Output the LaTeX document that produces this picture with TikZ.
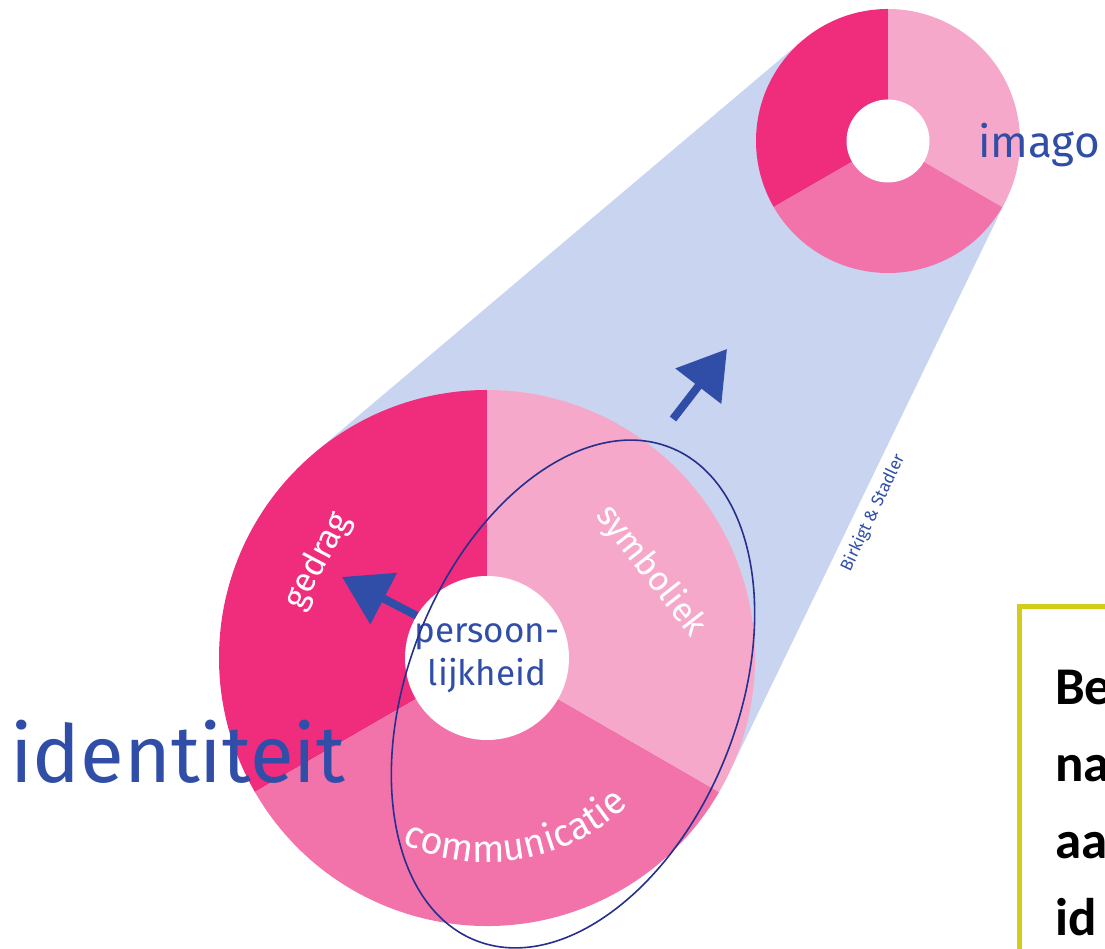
\documentclass[tikz,border=0pt]{standalone}
\usepackage{fontspec}
\setmainfont{Fira Sans}
\newfontfamily\notefont{Carlito}
\usetikzlibrary{arrows.meta, calc, decorations.text}

\definecolor{pinkdark}{RGB}{240,45,125}
\definecolor{pinkmid}{RGB}{241,115,170}
\definecolor{pinklight}{RGB}{246,168,202}
\definecolor{conefill}{RGB}{201,212,240}
\definecolor{textblue}{RGB}{48,78,168}
\definecolor{ringblue}{RGB}{38,48,140}
\definecolor{noteyellow}{RGB}{210,204,26}

\begin{document}
\begin{tikzpicture}[
    x=1pt, y=1pt,
    hole/.style={circle, fill=white, inner sep=0pt, align=center, text=textblue},
    sector_label/.style={text=white, inner sep=0pt, font=\fontsize{34}{40}\selectfont},
    title_label/.style={text=textblue, anchor=base west, inner sep=0pt},
    push_arrow/.style={-{Triangle[length=47pt, width=56pt]}, line width=8pt, textblue},
    ring/.style={draw=ringblue, line width=1.6pt},
    notebox/.style={draw=noteyellow, line width=5pt},
    note_text/.style={anchor=base west, inner sep=0pt, font=\notefont\bfseries\fontsize{53}{60}\selectfont}
  ]
  \useasboundingbox (0,0) rectangle (1105,949);
  \clip (0,0) rectangle (1105,949);

  \coordinate (big) at (487,291);
  \coordinate (small) at (888,808);

  % light cone between the two discs
  \fill[conefill] ($(big)+(130.2:268)$) -- ($(small)+(130.2:132)$)
    -- ($(small)+(-25.8:132)$) -- ($(big)+(-25.8:268)$) -- cycle;

  % three sectors per disc
  \foreach \c/\r in {big/268pt, small/132pt} {
    \fill[pinkdark] (\c) -- ++(90:\r) arc[start angle=90, end angle=210, radius=\r] -- cycle;
    \fill[pinkmid] (\c) -- ++(210:\r) arc[start angle=210, end angle=330, radius=\r] -- cycle;
    \fill[pinklight] (\c) -- ++(330:\r) arc[start angle=330, end angle=450, radius=\r] -- cycle;
  }

  \node[hole, minimum size=164pt, font=\fontsize{35}{43}\selectfont] (kern) at (big) {persoon-\\lijkheid};
  \node[hole, minimum size=83pt] (imagokern) at (small) {};

  \coordinate (ringc) at (573,255);
  \draw[ring, rotate around={-21.5:(ringc)}] (ringc) ellipse [x radius=165pt, y radius=265pt];

  \coordinate (gedragtip) at (342,372);
  \coordinate (outstart) at (673,530);
  \coordinate (outtip) at (727,600);
  \draw[push_arrow] (kern.149) -- (gedragtip);
  \draw[push_arrow] (outstart) -- (outtip);

  \node[sector_label, rotate=62] (gedrag) at (318,388) {gedrag};
  \node[sector_label, rotate=-52] (symboliek) at (651,378) {symboliek};
  \path[decorate, decoration={text along path, text align=center,
      text={|\fontsize{38}{44}\selectfont\color{white}|communicatie}}]
    ($(big)+(239.7:204pt)$) arc[start angle=239.7, end angle=319.7, radius=204pt];

  \node[title_label, font=\fontsize{80}{96}\selectfont] (identiteit) at (10,166) {identiteit};
  \node[title_label, font=\fontsize{44}{52}\selectfont] (imago) at (978,791) {imago};
  \node[text=textblue, rotate=64.6, font=\fontsize{17}{20}\selectfont] (bron) at (873,436) {Birkigt \& Stadler};

  % text box, running off the page
  \draw[notebox] (1019,342) rectangle (1200,-50);
  \foreach \w [count=\i] in {Be, na, aa, id}
    \node[note_text] (note\i) at (1055,{244-77*(\i-1)}) {\w};
\end{tikzpicture}
\end{document}
